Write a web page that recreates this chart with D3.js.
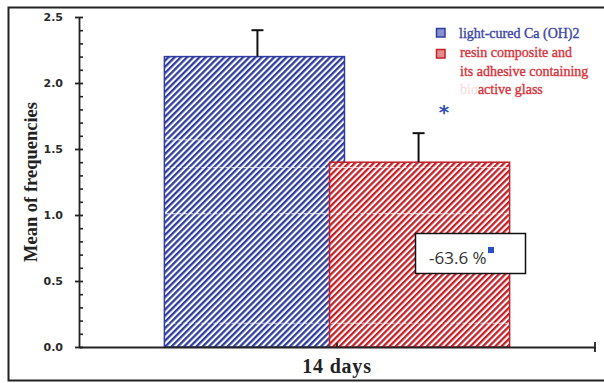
<!DOCTYPE html>
<html>
<head>
<meta charset="utf-8">
<script src="https://cdn.jsdelivr.net/npm/d3@7"></script>
<style>
  html, body { margin: 0; padding: 0; background: #fff; }
  svg { display: block; }
</style>
</head>
<body>
<svg id="chart" width="604" height="383"></svg>
<script>
// Mean frequencies after 14 days, two treatment groups
const categories = ["14 days"];
const seriesNames = ["light-cured Ca (OH)2", "resin composite and its adhesive containing bioactive glass"];
const means = [2.2, 1.4];
const errors = [0.2, 0.22];
const yTicks = [0.0, 0.5, 1.0, 1.5, 2.0, 2.5];
const guideLevels = [1.57, 1.36, 1.01, 0.18];
const changeLabel = "-63.6 %";

const colors = ["#2f3e9e", "#c32028"];
const lightColors = ["#8a8fcf", "#e48b8f"];

const svg = d3.select("#chart");

// outer frame
svg.append("rect")
  .attr("x", 8.5).attr("y", 7.5).attr("width", 610).attr("height", 373)
  .attr("fill", "none").attr("stroke", "#222").attr("stroke-width", 2);

const plot = { left: 79, right: 595, top: 17, bottom: 347 };

const y = d3.scaleLinear().domain([0, 2.5]).range([plot.bottom, plot.top]);
const x = d3.scaleBand().domain(categories).range([plot.left, plot.right]);
const barW = x.bandwidth() * 0.349;
const xs = d3.scalePoint().domain(seriesNames)
  .range([-barW * 0.4585, barW * 0.4585]);

// hatch patterns
const defs = svg.append("defs");
colors.forEach((c, i) => {
  const p = defs.append("pattern")
    .attr("id", "hatch" + i)
    .attr("patternUnits", "userSpaceOnUse")
    .attr("width", 4.4).attr("height", 4.4)
    .attr("patternTransform", "rotate(45)");
  p.append("rect").attr("width", 4.4).attr("height", 4.4).attr("fill", "#fff");
  p.append("rect").attr("x", 0).attr("width", 2.3).attr("height", 4.4).attr("fill", c);
});

const cx = x(categories[0]) + x.bandwidth() / 2;

// bars
const bars = seriesNames.map((s, i) => ({ s, i, v: means[i], e: errors[i] }));
const gBars = svg.append("g");
bars.forEach(d => {
  const x0 = cx + xs(d.s) - barW / 2;
  gBars.append("rect")
    .attr("x", x0).attr("y", y(d.v))
    .attr("width", barW).attr("height", y(0) - y(d.v))
    .attr("fill", `url(#hatch${d.i})`)
    .attr("stroke", colors[d.i]).attr("stroke-width", 1.5);
  // faint dashed guide lines across the bar
  guideLevels.filter(g => g < d.v).forEach(g => {
    gBars.append("line")
      .attr("x1", x0 + 1).attr("x2", x0 + barW - 1)
      .attr("y1", y(g)).attr("y2", y(g))
      .attr("stroke", "#fff").attr("stroke-width", 1.2)
      .attr("stroke-dasharray", "4,2").attr("opacity", 0.7);
  });
});

// error bars (upper only)
bars.forEach(d => {
  const ex = cx + xs(d.s) + (d.i === 0 ? 3 : -1);
  svg.append("line")
    .attr("x1", ex).attr("x2", ex)
    .attr("y1", y(d.v)).attr("y2", y(d.v + d.e))
    .attr("stroke", "#111").attr("stroke-width", 2);
  svg.append("line")
    .attr("x1", ex - 6).attr("x2", ex + 6)
    .attr("y1", y(d.v + d.e)).attr("y2", y(d.v + d.e))
    .attr("stroke", "#111").attr("stroke-width", 2);
});

// y axis: major ticks
const yAxis = d3.axisLeft(y).tickValues(yTicks).tickFormat(d3.format(".1f"))
  .tickSizeInner(4).tickSizeOuter(0).tickPadding(12);
const gy = svg.append("g").attr("transform", `translate(${plot.left},0)`).call(yAxis);
gy.select(".domain").attr("stroke", "#222").attr("stroke-width", 1.8);
gy.selectAll(".tick line").attr("stroke", "#222").attr("stroke-width", 1.8)
  .attr("x1", 4);
gy.selectAll(".tick text")
  .attr("font-family", "DejaVu Sans, sans-serif").attr("font-weight", "bold")
  .attr("font-size", 11).attr("fill", "#2a2a2a");

// y axis: minor ticks
const minor = d3.range(0, 2.5001, 0.1).filter(v => Math.abs(v * 2 - Math.round(v * 2)) > 1e-6);
const gyMinor = svg.append("g").attr("transform", `translate(${plot.left},0)`)
  .call(d3.axisRight(y).tickValues(minor).tickSize(4).tickFormat(""));
gyMinor.select(".domain").remove();
gyMinor.selectAll(".tick line").attr("stroke", "#222").attr("stroke-width", 1.6);

// x axis
const xAxis = d3.axisTop(x).tickSizeInner(4).tickSizeOuter(0).tickFormat("");
const gx = svg.append("g").attr("transform", `translate(0,${plot.bottom})`).call(xAxis);
gx.select(".domain").attr("stroke", "#222").attr("stroke-width", 1.8);
gx.selectAll(".tick line").attr("stroke", "#222").attr("stroke-width", 1.8);
svg.append("line")
  .attr("x1", plot.right).attr("x2", plot.right)
  .attr("y1", plot.bottom - 5).attr("y2", plot.bottom + 5)
  .attr("stroke", "#222").attr("stroke-width", 1.8);

svg.append("text")
  .attr("x", cx).attr("y", 373)
  .attr("text-anchor", "middle")
  .attr("font-family", "Liberation Serif, serif").attr("font-weight", "bold")
  .attr("font-size", 20).attr("letter-spacing", 0.8).attr("fill", "#222")
  .text(categories[0]);

// y axis title
svg.append("text")
  .attr("transform", `translate(37,${(plot.top + plot.bottom) / 2}) rotate(-90)`)
  .attr("text-anchor", "middle")
  .attr("font-family", "Liberation Serif, serif").attr("font-weight", "bold")
  .attr("font-size", 18.5).attr("fill", "#222")
  .text("Mean of frequencies");

// legend
const lg = svg.append("g");
const legendFont = g => g.attr("font-family", "Liberation Serif, serif").attr("font-size", 14)
  .attr("stroke-width", 0.35);
lg.append("rect").attr("x", 436.5).attr("y", 28.5).attr("width", 8.5).attr("height", 8.5)
  .attr("fill", lightColors[0]).attr("stroke", colors[0]).attr("stroke-width", 1.5);
lg.append("text").attr("x", 459).attr("y", 38)
  .call(legendFont)
  .attr("fill", "#3c44a8").attr("stroke", "#3c44a8")
  .text(seriesNames[0]);
lg.append("rect").attr("x", 436.5).attr("y", 49.5).attr("width", 8.5).attr("height", 8.5)
  .attr("fill", lightColors[1]).attr("stroke", colors[1]).attr("stroke-width", 1.5);
const redLines = ["resin composite and", "its adhesive containing", "bioactive glass"];
redLines.forEach((t, i) => {
  const txt = lg.append("text").attr("x", 460).attr("y", 57 + i * 18.5)
    .call(legendFont).attr("fill", "#d8323a").attr("stroke", "#d8323a");
  if (i === 2) {
    txt.append("tspan").attr("opacity", 0.15).text("bio");
    txt.append("tspan").text("active glass");
  } else {
    txt.text(t);
  }
});
lg.append("text").attr("x", 444).attr("y", 119)
  .attr("text-anchor", "middle")
  .attr("font-family", "DejaVu Sans, sans-serif").attr("font-weight", "bold")
  .attr("font-size", 20).attr("fill", "#2f4fb0")
  .text("*");

// percent change label
const box = svg.append("g");
box.append("rect").attr("x", 415.5).attr("y", 233.5).attr("width", 110).attr("height", 40)
  .attr("fill", "#fff").attr("stroke", "#111").attr("stroke-width", 1.5);
box.append("text").attr("x", 429).attr("y", 264)
  .attr("font-family", "Open Sans, sans-serif").attr("font-size", 17).attr("fill", "#333")
  .text(changeLabel);
box.append("rect").attr("x", 488).attr("y", 247).attr("width", 6).attr("height", 6)
  .attr("fill", "#2a4fc0");
</script>
</body>
</html>
